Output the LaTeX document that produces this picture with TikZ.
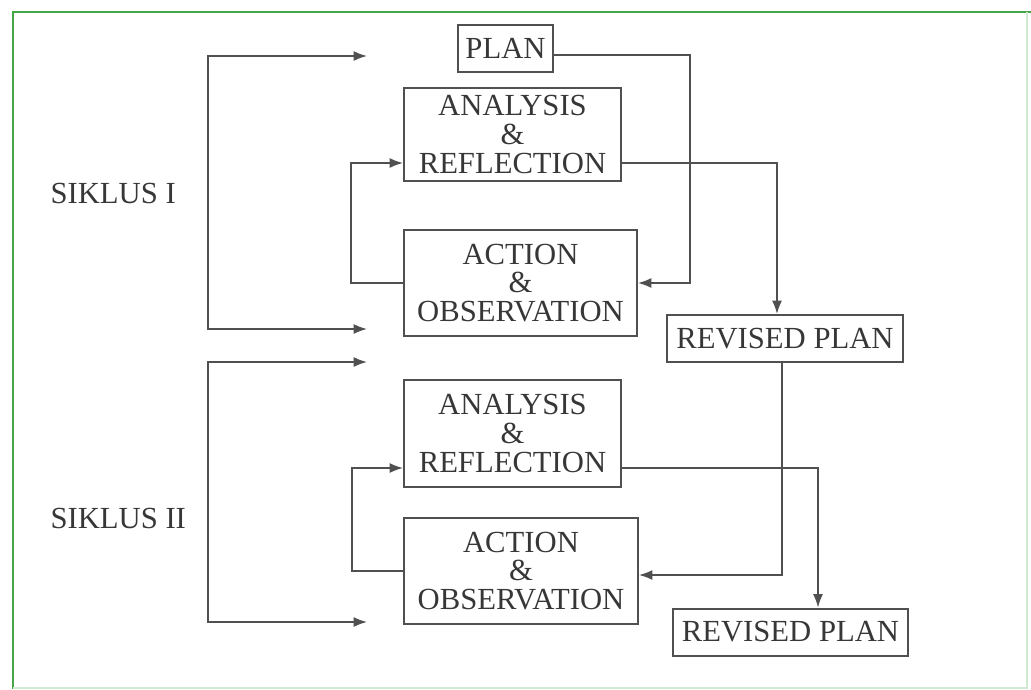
\documentclass[tikz,border=0pt]{standalone}
\usepackage{fontspec}
\setmainfont{Liberation Serif}
\usetikzlibrary{arrows.meta}
\definecolor{boxgray}{RGB}{80,80,80}
\definecolor{txtgray}{RGB}{55,55,55}
\definecolor{framegreen}{RGB}{70,165,70}
\tikzset{every picture/.style={line width=0.75pt}}

\begin{document}
\begin{tikzpicture}[x=0.75pt,y=0.75pt,yscale=-1,xscale=1,
  >={Latex[length=10pt,width=7.5pt]},
  stagebox/.style={draw=boxgray,line width=1.5pt,text=txtgray,inner sep=0pt,align=center,font=\fontsize{23}{21.5}\selectfont},
  flow/.style={draw=boxgray,line width=1.2pt},
  cyclelabel/.style={text=txtgray,anchor=west,inner sep=0pt,font=\fontsize{23}{21.5}\selectfont}]
\useasboundingbox (0,0) rectangle (1031,689);

%Frame
\draw [framegreen, line width=1.5pt] (13,689) -- (13,12) -- (1031,12) ;
\draw [framegreen!25, line width=1pt] (1027,12) -- (1027,688) -- (13,688) ;

%Shape: Rectangle [plan]
\node [stagebox, minimum width=71.25pt, minimum height=35.25pt] (plan) at (505.5,48.5) {PLAN};
%Shape: Rectangle [cycle I]
\node [stagebox, minimum width=162.75pt, minimum height=69.75pt] (ar1) at (512.5,134.5) {ANALYSIS\\ \&\\ REFLECTION};
\node [stagebox, minimum width=174.75pt, minimum height=79.5pt] (ao1) at (520.5,283) {ACTION\\ \&\\ OBSERVATION};
\node [stagebox, minimum width=177pt, minimum height=35.25pt] (rp1) at (785,338.5) {REVISED PLAN};
%Shape: Rectangle [cycle II]
\node [stagebox, minimum width=162.75pt, minimum height=80.25pt] (ar2) at (512.5,433.5) {ANALYSIS\\ \&\\ REFLECTION};
\node [stagebox, minimum width=175.5pt, minimum height=79.5pt] (ao2) at (521,571) {ACTION\\ \&\\ OBSERVATION};
\node [stagebox, minimum width=176.25pt, minimum height=35.25pt] (rp2) at (790.5,632) {REVISED PLAN};

% Text Node
\node [cyclelabel] (siklus1) at (50,193) {SIKLUS I};
% Text Node
\node [cyclelabel] (siklus2) at (50,518) {SIKLUS II};

%Corner points
\coordinate (k1) at (351,163);
\coordinate (k2) at (690,55);
\coordinate (k3) at (777,163);
\coordinate (k5) at (352,468);
\coordinate (k6) at (782,575);
\coordinate (k7) at (818,468);
\coordinate (s1top) at (367,56);
\coordinate (s1bot) at (367,329);
\coordinate (s1edge) at (208,329);
\coordinate (s2top) at (367,362);
\coordinate (s2bot) at (367,622);
\coordinate (s2edge) at (208,622);

%Cycle I connectors
\draw [flow,->] (plan.east |- k2) -| (k2) |- (ao1.east) ;
\draw [flow,->] (ao1.west) -| (k1) -- (ar1.west |- k1) ;
\draw [flow,->] (ar1.east |- k3) -| (rp1.north -| k3) ;
%Cycle II connectors
\draw [flow,->] (rp1.south -| k6) |- (ao2.east |- k6) ;
\draw [flow,->] (ao2.west) -| (k5) -- (ar2.west |- k5) ;
\draw [flow,->] (ar2.east |- k7) -| (rp2.north -| k7) ;

%Brackets
\draw [flow,<->] (s1top) -| (s1edge) -- (s1bot) ;
\draw [flow,<->] (s2top) -| (s2edge) -- (s2bot) ;

\end{tikzpicture}
\end{document}
